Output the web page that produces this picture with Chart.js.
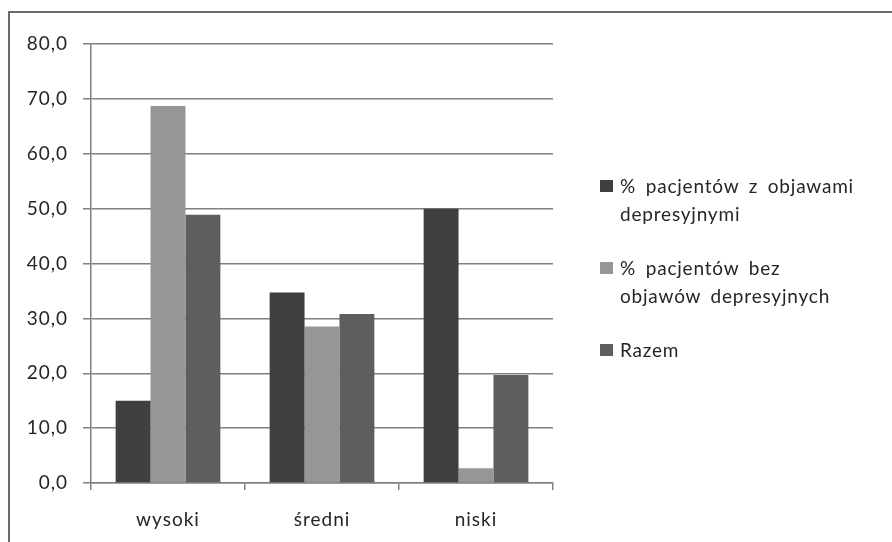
<!DOCTYPE html>
<html>
<head>
<meta charset="utf-8">
<script src="https://cdn.jsdelivr.net/npm/chart.js@4/dist/chart.umd.min.js"></script>
<style>
  body { margin: 0; background: #fff; width: 892px; height: 542px; overflow: hidden; position: relative; font-family: Lato, "Open Sans", sans-serif; }
  #frame { position: absolute; left: 8px; top: 11px; width: 900px; height: 560px; border: 2px solid #6a6a6a; box-sizing: border-box; }
  #wrap { position: absolute; left: 0; top: 0; width: 892px; height: 542px; }
  #legend { position: absolute; left: 600px; top: 172px; color: #262626; font-size: 19px; letter-spacing: 0.8px; word-spacing: 4px; white-space: nowrap; }
  .item { position: relative; padding-left: 20px; line-height: 28px; margin-bottom: 26px; }
  .box { position: absolute; left: 0; top: 8px; width: 13px; height: 12px; }
</style>
</head>
<body>
<div id="frame"></div>
<div id="wrap"><canvas id="myChart" width="892" height="542"></canvas></div>
<div id="legend"></div>
<script>
// kategorie i wartości
var categories = ["wysoki", "średni", "niski"];
var withSymptoms = [15.0, 34.7, 50.0];
var withoutSymptoms = [68.7, 28.5, 2.7];
var total = [48.9, 30.8, 19.7];
var seriesNames = [["% pacjentów z objawami", "depresyjnymi"], ["% pacjentów bez", "objawów depresyjnych"], ["Razem"]];
var colors = ["#404040", "#969696", "#5e5e5e"];

var font = { family: "Lato, 'Open Sans', sans-serif", size: 19 };

// odstęp między literami jak w oryginale
var spacing = {
  id: "spacing",
  beforeDraw: function (chart) { chart.ctx.letterSpacing = "1px"; }
};

new Chart("myChart", {
  type: "bar",
  data: {
    labels: categories,
    datasets: [
      { label: seriesNames[0].join(" "), data: withSymptoms, backgroundColor: colors[0] },
      { label: seriesNames[1].join(" "), data: withoutSymptoms, backgroundColor: colors[1] },
      { label: seriesNames[2].join(" "), data: total, backgroundColor: colors[2] }
    ]
  },
  plugins: [spacing],
  options: {
    responsive: false,
    animation: false,
    layout: { padding: { top: 44, right: 339, bottom: 9, left: 0 } },
    datasets: { bar: { categoryPercentage: 0.68, barPercentage: 1.0 } },
    plugins: { legend: { display: false }, tooltip: { enabled: false } },
    scales: {
      x: {
        offset: true,
        grid: { display: true, offset: true, drawOnChartArea: false, drawTicks: true, tickLength: 7, color: "#808080", lineWidth: 1.5 },
        border: { color: "#808080", width: 1.5 },
        ticks: { color: "#262626", font: font, padding: 18 },
        afterFit: function (s) { s.height = 50; }
      },
      y: {
        min: 0, max: 80,
        grid: { color: "#808080", lineWidth: 1.5, tickLength: 8 },
        border: { color: "#808080", width: 1.5 },
        ticks: {
          stepSize: 10, color: "#262626", font: font, padding: 15,
          callback: function (v) { return v.toFixed(1).replace(".", ","); }
        },
        afterFit: function (s) { s.width = 91; }
      }
    }
  }
});

// legenda po prawej stronie
var legend = document.getElementById("legend");
for (var i = 0; i < seriesNames.length; i++) {
  var item = document.createElement("div");
  item.className = "item";
  item.innerHTML = '<span class="box" style="background:' + colors[i] + '"></span>' + seriesNames[i].join("<br>");
  legend.appendChild(item);
}
</script>
</body>
</html>
